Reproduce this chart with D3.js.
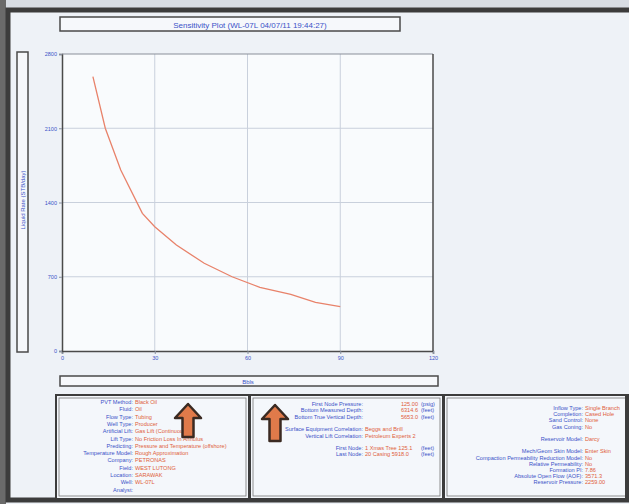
<!DOCTYPE html>
<html><head><meta charset="utf-8">
<script src="https://cdn.jsdelivr.net/npm/d3@7"></script>
<style>
html,body{margin:0;padding:0;background:#eef2f7;}
svg{display:block;font-family:"Liberation Sans",Arial,sans-serif;}
</style></head>
<body>
<svg id="c" width="629" height="504"></svg>
<script>
// ---- data ----
const titleText = "Sensitivity Plot (WL-07L 04/07/11 19:44:27)";
const yLabel = "Liquid Rate (STB/day)";
const xLabel = "Bbls";
const xTicks = [0, 30, 60, 90, 120];
const yTicks = [0, 700, 1400, 2100, 2800];
const sensX = [10, 14, 19, 26, 30, 37, 46, 55, 64, 74, 82, 90];
const liquidRate = [2586, 2100, 1706, 1298, 1172, 999, 827, 700, 600, 534, 459, 418];

const panel1Labels = ["PVT Method","Fluid","Flow Type","Well Type","Artificial Lift","Lift Type","Predicting","Temperature Model","Company","Field","Location","Well","Analyst"];
const panel1Values = ["Black Oil","Oil","Tubing","Producer","Gas Lift (Continuous)","No Friction Loss In Annulus","Pressure and Temperature (offshore)","Rough Approximation","PETRONAS","WEST LUTONG","SARAWAK","WL-07L",""];

const panel2Labels = ["First Node Pressure","Bottom Measured Depth","Bottom True Vertical Depth","","Surface Equipment Correlation","Vertical Lift Correlation","","First Node","Last Node"];
const panel2Values = ["","","","","Beggs and Brill","Petroleum Experts 2","","1 Xmas Tree 125.1","20 Casing 5918.0"];
const panel2Numbers = ["125.00","6314.6","5653.0","","","","","",""];
const panel2Units = ["(psig)","(feet)","(feet)","","","","","(feet)","(feet)"];

const panel3Labels = ["Inflow Type","Completion","Sand Control","Gas Coning","","Reservoir Model","","Mech/Geom Skin Model","Compaction Permeability Reduction Model","Relative Permeability","Formation PI","Absolute Open Flow (AOF)","Reservoir Pressure"];
const panel3Values = ["Single Branch","Cased Hole","None","No","","Darcy","","Enter Skin","No","No","7.86","3571.3","2259.00"];

// ---- drawing ----
const svg = d3.select("#c");
const blue = "#3a52c8", red = "#e0603a", frame = "#4a4a4a";

// outer frame
svg.append("rect").attr("x",0).attr("y",0).attr("width",629).attr("height",504).attr("fill","#eef2f7");
svg.append("rect").attr("x",0).attr("y",0).attr("width",629).attr("height",8).attr("fill","#d8dde4");
svg.append("rect").attr("x",0).attr("y",0).attr("width",6).attr("height",504).attr("fill","#6a6a6a");
svg.append("rect").attr("x",8).attr("y",10).attr("width",640).attr("height",490)
  .attr("fill","none").attr("stroke","#3c3c3c").attr("stroke-width",5);

// title box
svg.append("rect").attr("x",60).attr("y",17).attr("width",340).attr("height",14)
  .attr("fill","#f6f8fb").attr("stroke",frame).attr("stroke-width",1.5);
svg.append("text").attr("x",250).attr("y",27.5).attr("text-anchor","middle")
  .attr("font-size",8).attr("fill",blue).text(titleText);

// y label box
svg.append("rect").attr("x",17).attr("y",52).attr("width",11).attr("height",300)
  .attr("fill","#f6f8fb").attr("stroke",frame).attr("stroke-width",1.5);
svg.append("text").attr("transform","translate(25,200) rotate(-90)").attr("text-anchor","middle")
  .attr("font-size",6).attr("fill",blue).text(yLabel);

// plot
const x = d3.scaleLinear().domain([0,120]).range([62,433]);
const y = d3.scaleLinear().domain([0,2800]).range([351,54]);

svg.append("rect").attr("x",x(0)).attr("y",y(2800)).attr("width",x(120)-x(0)).attr("height",y(0)-y(2800))
  .attr("fill","#f9fbfd");

// grid
svg.append("g").selectAll("line").data(xTicks.slice(1,-1)).join("line")
  .attr("x1",d=>x(d)).attr("x2",d=>x(d)).attr("y1",y(2800)).attr("y2",y(0))
  .attr("stroke","#c9d0dc").attr("stroke-width",1);
svg.append("g").selectAll("line").data(yTicks.slice(1,-1)).join("line")
  .attr("y1",d=>y(d)).attr("y2",d=>y(d)).attr("x1",x(0)).attr("x2",x(120))
  .attr("stroke","#c9d0dc").attr("stroke-width",1);

// axes
const fmt = d3.format("d");
const xAxis = d3.axisBottom(x).tickValues(xTicks).tickFormat(fmt).tickSize(3).tickPadding(2);
const gx = svg.append("g").attr("transform",`translate(0,${y(0)})`).call(xAxis);
gx.select(".domain").attr("stroke",frame).attr("stroke-width",1.5);
gx.selectAll("line").attr("stroke","#8890a0");
gx.selectAll("text").attr("fill",blue).attr("font-size",5.5).attr("font-family","Liberation Sans, Arial, sans-serif");

const yAxis = d3.axisLeft(y).tickValues(yTicks).tickFormat(fmt).tickSize(3).tickPadding(2);
const gy = svg.append("g").attr("transform",`translate(${x(0)},0)`).call(yAxis);
gy.select(".domain").attr("stroke",frame).attr("stroke-width",1.5);
gy.selectAll("line").attr("stroke","#8890a0");
gy.selectAll("text").attr("fill",blue).attr("font-size",5.5).attr("font-family","Liberation Sans, Arial, sans-serif");

// top & right borders of plot
svg.append("line").attr("x1",x(0)).attr("x2",x(120)).attr("y1",y(2800)).attr("y2",y(2800)).attr("stroke","#8a8f99").attr("stroke-width",1);
svg.append("line").attr("x1",x(120)).attr("x2",x(120)).attr("y1",y(2800)).attr("y2",y(0)).attr("stroke",frame).attr("stroke-width",1.5);

// curve
const line = d3.line().x((d,i)=>x(sensX[i])).y(d=>y(d));
svg.append("path").datum(liquidRate).attr("d",line)
  .attr("fill","none").attr("stroke","#e8826a").attr("stroke-width",1.3);

// x label box
svg.append("rect").attr("x",60).attr("y",376).attr("width",378).attr("height",10)
  .attr("fill","#f6f8fb").attr("stroke",frame).attr("stroke-width",1.5);
svg.append("text").attr("x",248).attr("y",383.5).attr("text-anchor","middle")
  .attr("font-size",6).attr("fill",blue).text(xLabel);

// bottom panels
function panel(x0, w){
  svg.append("rect").attr("x",x0).attr("y",395).attr("width",w).attr("height",104)
    .attr("fill","#f4f7fb").attr("stroke","#3c3c3c").attr("stroke-width",2);
  svg.append("rect").attr("x",x0+3).attr("y",398).attr("width",w-6).attr("height",98)
    .attr("fill","none").attr("stroke","#777").attr("stroke-width",0.8);
}
panel(56,193);
panel(250,193);
panel(444,185);

const fs = 5.6;
function rows(labels, values, xa, y0, dy){
  const g = svg.append("g").attr("font-size",fs);
  labels.forEach((l,i)=>{
    if(l) g.append("text").attr("x",xa).attr("y",y0+i*dy).attr("text-anchor","end").attr("fill",blue).text(l+":");
    if(values[i]) g.append("text").attr("x",xa+2).attr("y",y0+i*dy).attr("fill",red).text(values[i]);
  });
  return g;
}
rows(panel1Labels, panel1Values, 133, 404, 7.3);
rows(panel2Labels, panel2Values, 363, 406, 6.3);
const g2 = svg.append("g").attr("font-size",fs);
panel2Numbers.forEach((n,i)=>{ if(n) g2.append("text").attr("x",418).attr("y",406+i*6.3).attr("text-anchor","end").attr("fill",red).text(n); });
panel2Units.forEach((u,i)=>{ if(u) g2.append("text").attr("x",421).attr("y",406+i*6.3).attr("fill",blue).text(u); });
svg.append("rect").attr("x",625).attr("y",395).attr("width",4).attr("height",105).attr("fill","#3c3c3c");
rows(panel3Labels, panel3Values, 583, 410, 6.2);

// arrows
function arrow(cx, top, bottom){
  const hw = 13, sw = 5.5, hh = 14;
  const pts = [[cx,top],[cx+hw,top+hh],[cx+sw,top+hh],[cx+sw,bottom],[cx-sw,bottom],[cx-sw,top+hh],[cx-hw,top+hh]];
  svg.append("path").attr("d",d3.line()(pts)+"Z").attr("fill","#e07a4a").attr("stroke","#3a2a22").attr("stroke-width",2.5).attr("stroke-linejoin","round");
}
arrow(188, 404, 437);
arrow(275, 405, 441);
</script>
</body></html>
